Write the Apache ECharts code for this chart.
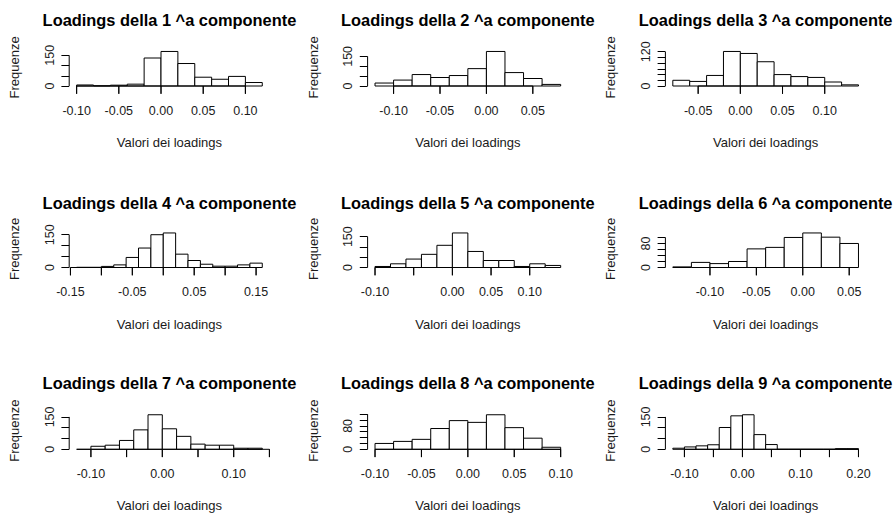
<!DOCTYPE html>
<html><head><meta charset="utf-8">
<script src="https://cdn.jsdelivr.net/npm/echarts@6/dist/echarts.min.js"></script>
<style>html,body{margin:0;padding:0;background:#fff}#c{width:896px;height:515px}</style>
</head><body><div id="c"></div>
<script>
// ---- data ----
const titles = ["Loadings della 1 ^a componente","Loadings della 2 ^a componente","Loadings della 3 ^a componente",
  "Loadings della 4 ^a componente","Loadings della 5 ^a componente","Loadings della 6 ^a componente",
  "Loadings della 7 ^a componente","Loadings della 8 ^a componente","Loadings della 9 ^a componente"];
const xAxisTitle = "Valori dei loadings";
const yAxisTitle = "Frequenze";

const breaks1 = [-0.10,-0.08,-0.06,-0.04,-0.02,0.00,0.02,0.04,0.06,0.08,0.10,0.12];
const counts1 = [5,1,4,9,137,169,110,43,33,47,17];
const xTicks1 = [-0.10,-0.05,0.00,0.05,0.10];
const xLabels1 = [-0.10,-0.05,0.00,0.05,0.10];
const yTicks1 = [0,50,100,150];
const yLabels1 = [0,150];

const breaks2 = [-0.12,-0.10,-0.08,-0.06,-0.04,-0.02,0.00,0.02,0.04,0.06,0.08];
const counts2 = [15,30,58,43,53,88,175,68,38,8];
const xTicks2 = [-0.10,-0.05,0.00,0.05];
const xLabels2 = [-0.10,-0.05,0.00,0.05];
const yTicks2 = [0,50,100,150];
const yLabels2 = [0,150];

const breaks3 = [-0.08,-0.06,-0.04,-0.02,0.00,0.02,0.04,0.06,0.08,0.10,0.12,0.14];
const counts3 = [20,16,37,121,114,85,40,33,30,14,4];
const xTicks3 = [-0.05,0.00,0.05,0.10];
const xLabels3 = [-0.05,0.00,0.05,0.10];
const yTicks3 = [0,20,40,60,80,100,120];
const yLabels3 = [0,120];

const breaks4 = [-0.14,-0.12,-0.10,-0.08,-0.06,-0.04,-0.02,0.00,0.02,0.04,0.06,0.08,0.10,0.12,0.14,0.16];
const counts4 = [1,1,5,12,46,89,150,158,61,32,15,6,6,12,20];
const xTicks4 = [-0.15,-0.10,-0.05,0.00,0.05,0.10,0.15];
const xLabels4 = [-0.15,-0.05,0.05,0.15];
const yTicks4 = [0,50,100,150];
const yLabels4 = [0,150];

const breaks5 = [-0.10,-0.08,-0.06,-0.04,-0.02,0.00,0.02,0.04,0.06,0.08,0.10,0.12,0.14];
const counts5 = [5,18,41,64,108,168,78,34,34,5,18,10];
const xTicks5 = [-0.10,-0.05,0.00,0.05,0.10];
const xLabels5 = [-0.10,0.00,0.05,0.10];
const yTicks5 = [0,50,100,150];
const yLabels5 = [0,150];

const breaks6 = [-0.14,-0.12,-0.10,-0.08,-0.06,-0.04,-0.02,0.00,0.02,0.04,0.06];
const counts6 = [2,17,13,20,62,67,100,115,101,80];
const xTicks6 = [-0.10,-0.05,0.00,0.05];
const xLabels6 = [-0.10,-0.05,0.00,0.05];
const yTicks6 = [0,20,40,60,80,100];
const yLabels6 = [0,80];

const breaks7 = [-0.12,-0.10,-0.08,-0.06,-0.04,-0.02,0.00,0.02,0.04,0.06,0.08,0.10,0.12,0.14];
const counts7 = [0,14,19,41,90,160,95,60,24,19,19,5,5];
const xTicks7 = [-0.10,-0.05,0.00,0.05,0.10,0.15];
const xLabels7 = [-0.10,0.00,0.10];
const yTicks7 = [0,50,100,150];
const yLabels7 = [0,150];

const breaks8 = [-0.10,-0.08,-0.06,-0.04,-0.02,0.00,0.02,0.04,0.06,0.08,0.10];
const counts8 = [20,27,34,71,98,92,118,74,38,7];
const xTicks8 = [-0.10,-0.05,0.00,0.05,0.10];
const xLabels8 = [-0.10,-0.05,0.00,0.05,0.10];
const yTicks8 = [0,20,40,60,80,100,120];
const yLabels8 = [0,80];

const breaks9 = [-0.12,-0.10,-0.08,-0.06,-0.04,-0.02,0.00,0.02,0.04,0.06,0.08,0.10,0.12,0.14,0.16,0.18,0.20];
const counts9 = [5,11,16,21,101,155,160,68,22,0,0,0,0,0,3,3];
const xTicks9 = [-0.10,-0.05,0.00,0.05,0.10,0.15,0.20];
const xLabels9 = [-0.10,0.00,0.10,0.20];
const yTicks9 = [0,50,100,150];
const yLabels9 = [0,150];

const panels = [
  [breaks1,counts1,xTicks1,xLabels1,yTicks1,yLabels1],
  [breaks2,counts2,xTicks2,xLabels2,yTicks2,yLabels2],
  [breaks3,counts3,xTicks3,xLabels3,yTicks3,yLabels3],
  [breaks4,counts4,xTicks4,xLabels4,yTicks4,yLabels4],
  [breaks5,counts5,xTicks5,xLabels5,yTicks5,yLabels5],
  [breaks6,counts6,xTicks6,xLabels6,yTicks6,yLabels6],
  [breaks7,counts7,xTicks7,xLabels7,yTicks7,yLabels7],
  [breaks8,counts8,xTicks8,xLabels8,yTicks8,yLabels8],
  [breaks9,counts9,xTicks9,xLabels9,yTicks9,yLabels9]
];

// ---- layout ----
const FONT = "'Liberation Sans', Arial, Helvetica, sans-serif";
const colLeft = [69.2, 367.6, 665.4];
const rowBase = [86, 267.5, 449.3];
const titleY = [19.7, 203, 383];
const gridW = 200.5, gridH = 37.3;
const TICK = 7.8;
const INK = '#000', TXT = '#1a1a1a';

const grid = [], xAxis = [], yAxis = [], series = [], title = [];

panels.forEach((p, i) => {
  const [br, ct, xt, xl, yt, yl] = p;
  const r = Math.floor(i / 3), c = i % 3;
  const lo = br[0], hi = br[br.length - 1], pad = 0.04 * (hi - lo);
  const xmin = lo - pad, xmax = hi + pad;
  const ymax = 1.08 * Math.max.apply(null, ct);
  grid.push({left: colLeft[c], top: rowBase[r] - gridH, width: gridW, height: gridH});
  title.push({text: titles[i], left: colLeft[c] + gridW / 2, top: titleY[r], textAlign: 'center',
    textVerticalAlign: 'middle', padding: 0,
    textStyle: {fontFamily: FONT, fontSize: 16.4, fontWeight: 'bold', color: INK}});
  xAxis.push({type: 'value', gridIndex: i, min: xmin, max: xmax, position: 'bottom',
    name: xAxisTitle, nameLocation: 'middle', nameGap: 50,
    nameTextStyle: {fontFamily: FONT, fontSize: 13, color: TXT},
    axisLine: {show: false, onZero: false}, splitLine: {show: false},
    axisTick: {show: false},
    axisLabel: {show: true, customValues: xl, margin: 18, fontFamily: FONT, fontSize: 12.5, color: TXT,
      formatter: v => v.toFixed(2)}});
  yAxis.push({type: 'value', gridIndex: i, min: 0, max: ymax, position: 'left',
    name: yAxisTitle, nameLocation: 'middle', nameGap: 48, nameRotate: 90,
    nameTextStyle: {fontFamily: FONT, fontSize: 13, color: TXT},
    axisLine: {show: false, onZero: false}, splitLine: {show: false},
    axisTick: {show: true, inside: false, length: TICK, customValues: yt, lineStyle: {color: INK, width: 1}},
    axisLabel: {show: true, customValues: yl, rotate: 90, margin: 13, fontFamily: FONT, fontSize: 12.5, color: TXT,
      formatter: v => String(Math.round(v))}});
  // histogram bars
  const data = ct.map((n, k) => [br[k], br[k + 1], n]);
  series.push({type: 'custom', xAxisIndex: i, yAxisIndex: i, clip: false, data: data,
    renderItem: (params, api) => {
      const a = api.coord([api.value(0), api.value(2)]);
      const b = api.coord([api.value(1), 0]);
      return {type: 'rect', shape: {x: a[0], y: a[1], width: b[0] - a[0], height: b[1] - a[1]},
        style: {fill: '#fff', stroke: INK, lineWidth: 1}};
    }});
  // R-style axis lines (spanning first to last tick)
  series.push({type: 'custom', xAxisIndex: i, yAxisIndex: i, clip: false, data: [[0]],
    renderItem: (params, api) => {
      const a = api.coord([xt[0], 0]), b = api.coord([xt[xt.length - 1], 0]);
      const c1 = api.coord([xmin, yt[0]]), d = api.coord([xmin, yt[yt.length - 1]]);
      return {type: 'group', children: [
        {type: 'line', shape: {x1: a[0], y1: a[1], x2: b[0], y2: b[1]}, style: {stroke: INK, lineWidth: 1}},
        {type: 'line', shape: {x1: c1[0], y1: c1[1], x2: d[0], y2: d[1]}, style: {stroke: INK, lineWidth: 1}}
      ]};
    }});
  // x tick marks, one item per tick value
  series.push({type: 'custom', xAxisIndex: i, yAxisIndex: i, clip: false, data: xt.map(t => [t]),
    renderItem: (params, api) => {
      const q = api.coord([api.value(0), 0]);
      return {type: 'group', children: [
        {type: 'line', shape: {x1: q[0], y1: q[1], x2: q[0], y2: q[1] + TICK}, style: {stroke: INK, lineWidth: 1}}]};
    }});
});

const chart = echarts.init(document.getElementById('c'), null, {renderer: 'svg'});
chart.setOption({animation: false, backgroundColor: '#fff', title, grid, xAxis, yAxis, series});

// backup x tick marks placed through the chart's own scales
const tickMarks = [];
panels.forEach((p, i) => {
  p[2].forEach(t => {
    const q = chart.convertToPixel({xAxisIndex: i, yAxisIndex: i}, [t, 0]);
    if (q) tickMarks.push({type: 'line', shape: {x1: q[0], y1: q[1], x2: q[0], y2: q[1] + TICK}, style: {stroke: INK, lineWidth: 1}});
  });
});
chart.setOption({graphic: {elements: tickMarks}});
</script>
</body></html>
